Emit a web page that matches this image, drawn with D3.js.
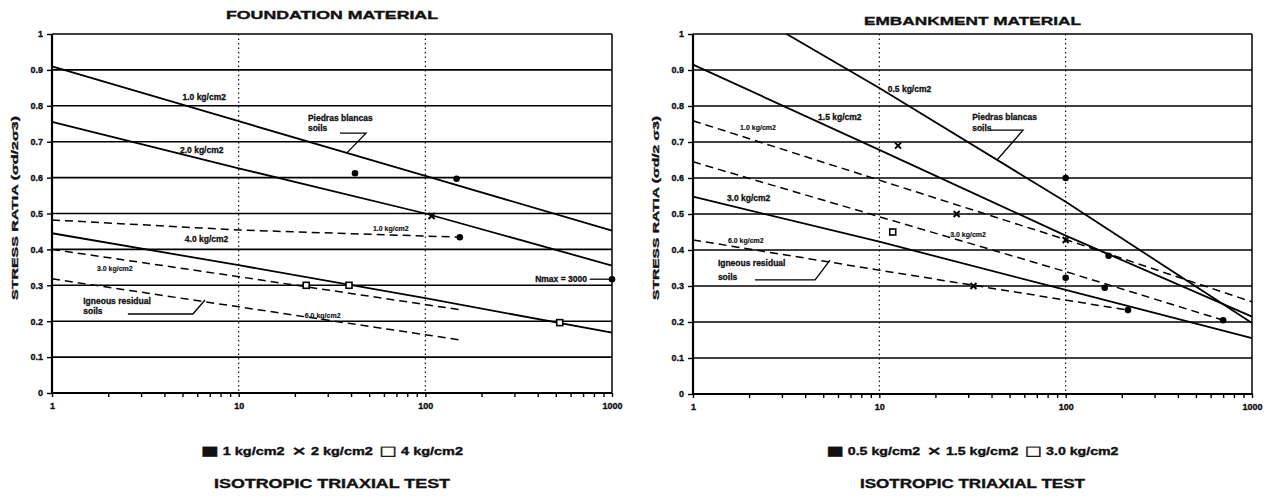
<!DOCTYPE html>
<html>
<head>
<meta charset="utf-8">
<script src="https://cdnjs.cloudflare.com/ajax/libs/d3/7.8.5/d3.min.js"></script>
<style>
    body { margin: 0; background: #fff; }
    text { font-family: 'Liberation Sans', Arial, sans-serif; font-weight: bold; fill: #111; stroke: #111; stroke-width: 0.35px; }
</style>
</head>
<body>
<svg id="chart" width="1269" height="496"></svg>
<script>
// x = number of cycles (log scale), y = stress ratio
const xTicks = [1, 10, 100, 1000];
const yTicks = [0, 0.1, 0.2, 0.3, 0.4, 0.5, 0.6, 0.7, 0.8, 0.9, 1];
const cycles = [1, 10, 100, 1000];

// ---- foundation material ----
const fnd_solid_10 = [0.91, 0.757, 0.605, 0.452];
const fnd_solid_20 = [0.755, 0.626, 0.50, 0.355];
const fnd_solid_40 = [0.445, 0.356, 0.264, 0.168];
const fnd_dash_x = [1, 10, 153];
const fnd_dash_10 = [0.482, 0.454, 0.434];
const fnd_dash_30 = [0.40, 0.324, 0.232];
const fnd_dash_60 = [0.318, 0.24, 0.148];

const fnd_sq_x = [42, 147, 153, 1000];
const fnd_sq_y = [0.612, 0.597, 0.434, 0.317];
const fnd_cross_x = [108];
const fnd_cross_y = [0.493];
const fnd_open_x = [23, 39, 525];
const fnd_open_y = [0.30, 0.30, 0.196];

// ---- embankment material ----
const emb_solid_05_x = [3.18, 10, 100, 1000];
const emb_solid_05 = [1.0, 0.85, 0.534, 0.197];
const emb_solid_15 = [0.915, 0.678, 0.44, 0.215];
const emb_solid_30 = [0.548, 0.423, 0.289, 0.155];
const emb_dash_10 = [0.759, 0.594, 0.429, 0.256];
const emb_dash_30_x = [1, 10, 100, 700];
const emb_dash_30 = [0.645, 0.4925, 0.34, 0.205];
const emb_dash_60_x = [1, 10, 216];
const emb_dash_60 = [0.428, 0.344, 0.233];

const emb_sq_x = [100, 170, 162, 100, 216, 700];
const emb_sq_y = [0.60, 0.384, 0.295, 0.323, 0.233, 0.205];
const emb_cross_x = [12.6, 100, 26, 32];
const emb_cross_y = [0.69, 0.428, 0.50, 0.30];
const emb_open_x = [11.8];
const emb_open_y = [0.45];

const zip = (xs, ys) => xs.map((v, i) => [v, ys[i]]);

class SemiLogChart {
    constructor(config, data) {
        this.config = {
            parent: config.parent,
            left: config.left,
            right: config.right,
            top: config.top || 34,
            bottom: config.bottom || 393,
            title: config.title,
            titleY: config.titleY,
            titleW: config.titleW,
            ylabel: config.ylabel,
            ylabelX: config.ylabelX,
            legend: config.legend,
            legendW: config.legendW,
            footW: config.footW
        };
        this.data = data;
        this.init();
    }

    init() {
        let self = this;
        let c = self.config;

        self.svg = d3.select(c.parent);
        self.chart = self.svg.append('g');

        self.xscale = d3.scaleLog()
            .domain([1, 1000])
            .range([c.left, c.right]);

        self.yscale = d3.scaleLinear()
            .domain([0, 1])
            .range([c.bottom, c.top]);

        self.line = d3.line()
            .x(d => self.xscale(d[0]))
            .y(d => self.yscale(d[1]));

        let minor = [];
        [1, 10, 100].forEach(b => { for (let k = 1; k < 10; k++) minor.push(b * k); });
        minor.push(1000);

        self.xaxis = d3.axisBottom(self.xscale)
            .tickValues(minor)
            .tickSize(4)
            .tickPadding(6)
            .tickFormat(d => xTicks.includes(d) ? String(d) : '');

        self.yaxis = d3.axisLeft(self.yscale)
            .tickValues(yTicks)
            .tickSize(5)
            .tickPadding(4)
            .tickFormat(d => (d === 0 || d === 1) ? String(d) : d3.format('.1f')(d));
    }

    render() {
        let self = this;
        let c = self.config;
        let x = self.xscale, y = self.yscale;

        // horizontal grid
        self.chart.selectAll('.hgrid')
            .data(yTicks)
            .join('line')
            .attr('x1', c.left).attr('x2', c.right)
            .attr('y1', d => y(d)).attr('y2', d => y(d))
            .attr('stroke', '#000')
            .attr('stroke-width', 1.6);

        // dotted decade lines
        self.chart.selectAll('.vgrid')
            .data([10, 100])
            .join('line')
            .attr('x1', d => x(d)).attr('x2', d => x(d))
            .attr('y1', c.top).attr('y2', c.bottom)
            .attr('stroke', '#000')
            .attr('stroke-width', 1.1)
            .attr('stroke-dasharray', '1.5,3');

        // right border
        self.chart.append('line')
            .attr('x1', c.right).attr('x2', c.right)
            .attr('y1', c.top).attr('y2', c.bottom)
            .attr('stroke', '#000').attr('stroke-width', 1.5);

        // curves
        self.chart.selectAll('.curve')
            .data(self.data.curves)
            .join('path')
            .attr('d', d => self.line(d.pts))
            .attr('fill', 'none')
            .attr('stroke', '#000')
            .attr('stroke-width', d => d.dash ? 1.5 : 1.8)
            .attr('stroke-dasharray', d => d.dash ? '8,5' : null);

        // leader lines
        self.chart.selectAll('.leader')
            .data(self.data.leaders)
            .join('path')
            .attr('d', d => self.line(d))
            .attr('fill', 'none')
            .attr('stroke', '#000')
            .attr('stroke-width', 1.3);

        // markers
        self.chart.selectAll('.msq')
            .data(self.data.filled)
            .join('circle')
            .attr('cx', d => x(d[0])).attr('cy', d => y(d[1]))
            .attr('r', 3.3)
            .attr('fill', '#000');

        self.chart.selectAll('.mx')
            .data(self.data.cross)
            .join('path')
            .attr('d', d => {
                let px = x(d[0]), py = y(d[1]);
                return `M${px-3},${py-3}L${px+3},${py+3}M${px-3},${py+3}L${px+3},${py-3}`;
            })
            .attr('stroke', '#000').attr('stroke-width', 2);

        self.chart.selectAll('.mo')
            .data(self.data.open)
            .join('rect')
            .attr('x', d => x(d[0]) - 3).attr('y', d => y(d[1]) - 3)
            .attr('width', 6).attr('height', 6)
            .attr('fill', '#fff')
            .attr('stroke', '#000').attr('stroke-width', 1.6);

        // annotations
        self.chart.selectAll('.note')
            .data(self.data.notes)
            .join('text')
            .attr('x', d => x(d.x)).attr('y', d => y(d.y))
            .attr('text-anchor', d => d.anchor || 'start')
            .style('font-size', d => d.small ? '7px' : '8.5px')
            .style('stroke-width', d => d.small ? '0.15px' : '0.3px')
            .text(d => d.text);

        // axes
        self.xaxis_group = self.chart.append('g')
            .attr('transform', `translate(0, ${c.bottom})`)
            .call(self.xaxis);
        self.yaxis_group = self.chart.append('g')
            .attr('transform', `translate(${c.left}, 0)`)
            .call(self.yaxis);

        [self.xaxis_group, self.yaxis_group].forEach(g => {
            g.select('.domain').remove();
            g.selectAll('line').attr('stroke', '#000').attr('stroke-width', 1.4);
            g.selectAll('text')
                .style('font-size', '9px')
                .style('font-family', "'Liberation Sans', Arial, sans-serif")
                .attr('fill', '#111')
                .attr('stroke', '#111').attr('stroke-width', 0.35);
        });

        self.chart.append('line')
            .attr('x1', c.left).attr('x2', c.right)
            .attr('y1', c.bottom).attr('y2', c.bottom)
            .attr('stroke', '#000').attr('stroke-width', 2.2);
        self.chart.append('line')
            .attr('x1', c.left).attr('x2', c.left)
            .attr('y1', c.top).attr('y2', c.bottom)
            .attr('stroke', '#000').attr('stroke-width', 2.2);

        // title, y label, legend
        let mid = (c.left + c.right) / 2;
        self.svg.append('text')
            .attr('x', mid - c.titleW / 2).attr('y', c.titleY)
            .attr('textLength', c.titleW).attr('lengthAdjust', 'spacingAndGlyphs')
            .style('font-size', '11px')
            .text(c.title);

        self.svg.append('text')
            .attr('transform', `translate(${c.ylabelX}, 208) rotate(-90)`)
            .attr('x', -92).attr('y', 0)
            .attr('textLength', 184).attr('lengthAdjust', 'spacingAndGlyphs')
            .style('font-size', '9.5px')
            .text(c.ylabel);

        let leg = self.svg.append('text')
            .attr('x', mid - c.legendW / 2).attr('y', 455)
            .attr('textLength', c.legendW).attr('lengthAdjust', 'spacingAndGlyphs')
            .style('font-size', '10px');
        c.legend.forEach((item, i) => {
            leg.append('tspan')
                .style('font-size', '13px')
                .style('font-family', 'DejaVu Sans')
                .text((i > 0 ? '   ' : '') + item.sym);
            leg.append('tspan').text('  ' + item.label);
        });

        self.svg.append('text')
            .attr('x', mid - c.footW / 2).attr('y', 488)
            .attr('textLength', c.footW).attr('lengthAdjust', 'spacingAndGlyphs')
            .style('font-size', '12px')
            .text('ISOTROPIC TRIAXIAL TEST');
    }
}

const fndData = {
    curves: [
        { pts: zip(cycles, fnd_solid_10) },
        { pts: zip(cycles, fnd_solid_20) },
        { pts: zip(cycles, fnd_solid_40) },
        { pts: zip(fnd_dash_x, fnd_dash_10), dash: true },
        { pts: zip(fnd_dash_x, fnd_dash_30), dash: true },
        { pts: zip(fnd_dash_x, fnd_dash_60), dash: true }
    ],
    filled: zip(fnd_sq_x, fnd_sq_y),
    cross: zip(fnd_cross_x, fnd_cross_y),
    open: zip(fnd_open_x, fnd_open_y),
    leaders: [
        [[34.9, 0.724], [48.1, 0.724], [38.0, 0.669]],
        [[2.55, 0.22], [5.69, 0.22], [6.6, 0.259]],
        [[760, 0.317], [1000, 0.317]]
    ],
    notes: [
        { x: 5.0, y: 0.815, text: '1.0 kg/cm2' },
        { x: 4.85, y: 0.668, text: '2.0 kg/cm2' },
        { x: 5.15, y: 0.42, text: '4.0 kg/cm2' },
        { x: 23.5, y: 0.758, text: 'Piedras blancas' },
        { x: 23.5, y: 0.73, text: 'soils' },
        { x: 52.4, y: 0.451, text: '1.0 kg/cm2', small: true },
        { x: 1.74, y: 0.34, text: '3.0 kg/cm2', small: true },
        { x: 22.6, y: 0.209, text: '6.0 kg/cm2', small: true },
        { x: 1.47, y: 0.248, text: 'Igneous residual' },
        { x: 1.47, y: 0.22, text: 'soils' },
        { x: 734, y: 0.309, text: 'Nmax = 3000', anchor: 'end' }
    ]
};

const embData = {
    curves: [
        { pts: zip(emb_solid_05_x, emb_solid_05) },
        { pts: zip(cycles, emb_solid_15) },
        { pts: zip(cycles, emb_solid_30) },
        { pts: zip(cycles, emb_dash_10), dash: true },
        { pts: zip(emb_dash_30_x, emb_dash_30), dash: true },
        { pts: zip(emb_dash_60_x, emb_dash_60), dash: true }
    ],
    filled: zip(emb_sq_x, emb_sq_y),
    cross: zip(emb_cross_x, emb_cross_y),
    open: zip(emb_open_x, emb_open_y),
    leaders: [
        [[39.3, 0.733], [59.1, 0.733], [42.8, 0.65]],
        [[2.15, 0.317], [4.52, 0.317], [5.44, 0.372]]
    ],
    notes: [
        { x: 11.1, y: 0.839, text: '0.5 kg/cm2' },
        { x: 4.69, y: 0.761, text: '1.5 kg/cm2' },
        { x: 1.79, y: 0.733, text: '1.0 kg/cm2', small: true },
        { x: 1.52, y: 0.536, text: '3.0 kg/cm2' },
        { x: 1.54, y: 0.42, text: '6.0 kg/cm2', small: true },
        { x: 31.5, y: 0.761, text: 'Piedras blancas' },
        { x: 31.5, y: 0.731, text: 'soils' },
        { x: 24, y: 0.436, text: '3.0 kg/cm2', small: true },
        { x: 1.36, y: 0.356, text: 'Igneous residual' },
        { x: 1.36, y: 0.317, text: 'soils' }
    ]
};

let chart1 = new SemiLogChart({
    parent: '#chart', left: 52, right: 612, top: 34, bottom: 393,
    title: 'FOUNDATION MATERIAL', titleY: 19, titleW: 212,
    ylabel: 'STRESS RATIA (σd/2σ3)', ylabelX: 18,
    legend: [
        { sym: '■', label: '1 kg/cm2' },
        { sym: '×', label: '2 kg/cm2' },
        { sym: '□', label: '4 kg/cm2' }
    ],
    legendW: 262,
    footW: 236
}, fndData);
chart1.render();

let chart2 = new SemiLogChart({
    parent: '#chart', left: 693, right: 1252, top: 34, bottom: 394,
    title: 'EMBANKMENT MATERIAL', titleY: 25, titleW: 217,
    ylabel: 'STRESS RATIA (σd/2 σ3)', ylabelX: 659,
    legend: [
        { sym: '■', label: '0.5 kg/cm2' },
        { sym: '×', label: '1.5 kg/cm2' },
        { sym: '□', label: '3.0 kg/cm2' }
    ],
    legendW: 292,
    footW: 225
}, embData);
chart2.render();
</script>
</body>
</html>
